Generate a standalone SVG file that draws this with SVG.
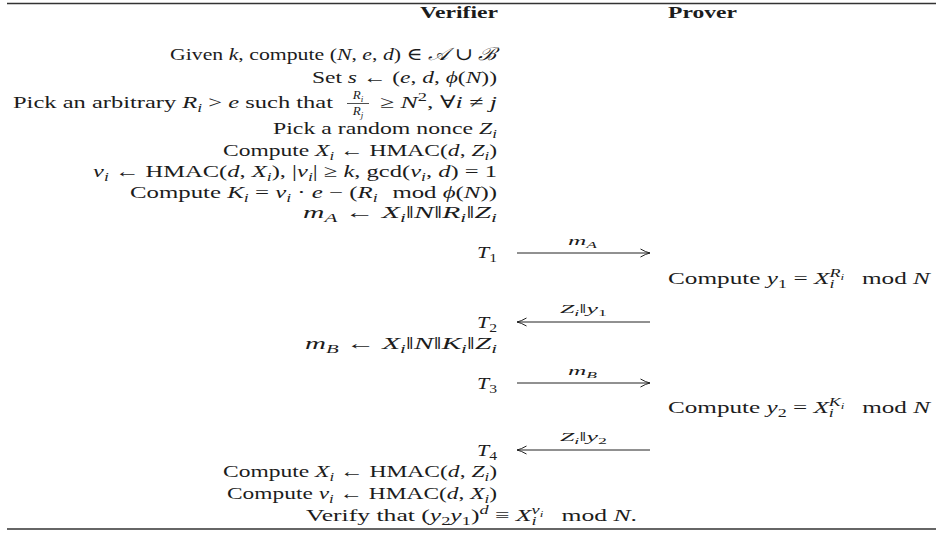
<svg xmlns="http://www.w3.org/2000/svg" width="937" height="534" viewBox="0 0 937 534">
<defs>
<style>
.t{font-family:"Liberation Serif","Times New Roman","DejaVu Serif",serif;font-size:17.5px;fill:#1c1c1c}
.b{font-weight:bold}
.i{font-style:italic}
.sb{font-size:12.5px;baseline-shift:-4px}
.sp{font-size:12.5px;baseline-shift:7px}
.ss{font-size:9px;baseline-shift:-2.5px}
.sm{font-size:13px}
.rule{stroke:#333;stroke-width:1.3}
.arr{stroke:#222;stroke-width:1;fill:none}
.fr{stroke:#222;stroke-width:0.8}
</style>
<marker id="head" markerUnits="userSpaceOnUse" markerWidth="12" markerHeight="10" refX="10" refY="5" orient="auto">
<path d="M0.5,1 Q6,4.2 10,5 M0.5,9 Q6,5.8 10,5" fill="none" stroke="#222" stroke-width="1"/>
</marker>
</defs>
<rect width="937" height="534" fill="#fff"/>
<g id="rules">
<line class="rule" x1="7" y1="3.5" x2="936" y2="3.5"/>
<line class="rule" x1="7" y1="529" x2="936" y2="529"/>
</g>
<g id="header">
<text class="t b" x="420" y="18" textLength="78" lengthAdjust="spacingAndGlyphs">Verifier</text>
<text class="t b" x="668" y="18" textLength="69" lengthAdjust="spacingAndGlyphs">Prover</text>
</g>
<g id="verifier-setup">
<text class="t" x="170" y="60" textLength="327" lengthAdjust="spacingAndGlyphs">Given <tspan class="i">k</tspan>, compute (<tspan class="i">N</tspan>, <tspan class="i">e</tspan>, <tspan class="i">d</tspan>) ∈ <tspan class="i">𝒜</tspan> ∪ <tspan class="i">ℬ</tspan></text>
<text class="t" x="312" y="83" textLength="185" lengthAdjust="spacingAndGlyphs">Set <tspan class="i">s</tspan> ← (<tspan class="i">e</tspan>, <tspan class="i">d</tspan>, <tspan class="i">ϕ</tspan>(<tspan class="i">N</tspan>))</text>
<text class="t" x="13" y="108" textLength="320" lengthAdjust="spacingAndGlyphs">Pick an arbitrary <tspan class="i">R</tspan><tspan class="sb i">i</tspan> &gt; <tspan class="i">e</tspan> such that</text>
<text class="t sm i" x="358" y="99" text-anchor="middle">R<tspan class="ss">i</tspan></text>
<line class="fr" x1="347" y1="103.5" x2="369" y2="103.5"/>
<text class="t sm i" x="358" y="114.5" text-anchor="middle">R<tspan class="ss">j</tspan></text>
<text class="t" x="380" y="108" textLength="117" lengthAdjust="spacingAndGlyphs">≥ <tspan class="i">N</tspan><tspan class="sp">2</tspan>, ∀<tspan class="i">i</tspan> ≠ <tspan class="i">j</tspan></text>
<text class="t" x="273" y="134" textLength="224" lengthAdjust="spacingAndGlyphs">Pick a random nonce <tspan class="i">Z</tspan><tspan class="sb i">i</tspan></text>
<text class="t" x="223" y="156" textLength="274" lengthAdjust="spacingAndGlyphs">Compute <tspan class="i">X</tspan><tspan class="sb i">i</tspan> ← HMAC(<tspan class="i">d</tspan>, <tspan class="i">Z</tspan><tspan class="sb i">i</tspan>)</text>
<text class="t" x="93" y="177" textLength="404" lengthAdjust="spacingAndGlyphs"><tspan class="i">v</tspan><tspan class="sb i">i</tspan> ← HMAC(<tspan class="i">d</tspan>, <tspan class="i">X</tspan><tspan class="sb i">i</tspan>), |<tspan class="i">v</tspan><tspan class="sb i">i</tspan>| ≥ <tspan class="i">k</tspan>, gcd(<tspan class="i">v</tspan><tspan class="sb i">i</tspan>, <tspan class="i">d</tspan>) = 1</text>
<text class="t" x="130" y="198" textLength="367" lengthAdjust="spacingAndGlyphs">Compute <tspan class="i">K</tspan><tspan class="sb i">i</tspan> = <tspan class="i">v</tspan><tspan class="sb i">i</tspan> · <tspan class="i">e</tspan> − (<tspan class="i">R</tspan><tspan class="sb i">i</tspan> <tspan dx="6">mod</tspan> <tspan class="i">ϕ</tspan>(<tspan class="i">N</tspan>))</text>
<text class="t" x="303" y="218" textLength="194" lengthAdjust="spacingAndGlyphs"><tspan class="i">m</tspan><tspan class="sb i">A</tspan> ← <tspan class="i">X</tspan><tspan class="sb i">i</tspan>‖<tspan class="i">N</tspan>‖<tspan class="i">R</tspan><tspan class="sb i">i</tspan>‖<tspan class="i">Z</tspan><tspan class="sb i">i</tspan></text>
</g>
<g id="t1">
<text class="t" x="477" y="258" textLength="20" lengthAdjust="spacingAndGlyphs"><tspan class="i">T</tspan><tspan class="sb">1</tspan></text>
</g>
<g id="prover-y1">
<text class="t" x="668" y="284" textLength="262" lengthAdjust="spacingAndGlyphs">Compute <tspan class="i">y</tspan><tspan class="sb">1</tspan> = <tspan class="i">X</tspan><tspan class="sb i">i</tspan><tspan class="sp i" dx="-3.5">R<tspan class="ss">i</tspan></tspan> <tspan dx="8">mod</tspan> <tspan class="i">N</tspan></text>
</g>
<g id="t2">
<text class="t" x="477" y="328" textLength="20" lengthAdjust="spacingAndGlyphs"><tspan class="i">T</tspan><tspan class="sb">2</tspan></text>
</g>
<g id="verifier-mb">
<text class="t" x="305" y="349" textLength="192" lengthAdjust="spacingAndGlyphs"><tspan class="i">m</tspan><tspan class="sb i">B</tspan> ← <tspan class="i">X</tspan><tspan class="sb i">i</tspan>‖<tspan class="i">N</tspan>‖<tspan class="i">K</tspan><tspan class="sb i">i</tspan>‖<tspan class="i">Z</tspan><tspan class="sb i">i</tspan></text>
</g>
<g id="t3">
<text class="t" x="477" y="389" textLength="20" lengthAdjust="spacingAndGlyphs"><tspan class="i">T</tspan><tspan class="sb">3</tspan></text>
</g>
<g id="prover-y2">
<text class="t" x="668" y="413" textLength="262" lengthAdjust="spacingAndGlyphs">Compute <tspan class="i">y</tspan><tspan class="sb">2</tspan> = <tspan class="i">X</tspan><tspan class="sb i">i</tspan><tspan class="sp i" dx="-3.5">K<tspan class="ss">i</tspan></tspan> <tspan dx="8">mod</tspan> <tspan class="i">N</tspan></text>
</g>
<g id="t4">
<text class="t" x="477" y="456" textLength="20" lengthAdjust="spacingAndGlyphs"><tspan class="i">T</tspan><tspan class="sb">4</tspan></text>
</g>
<g id="verifier-check">
<text class="t" x="223" y="477" textLength="274" lengthAdjust="spacingAndGlyphs">Compute <tspan class="i">X</tspan><tspan class="sb i">i</tspan> ← HMAC(<tspan class="i">d</tspan>, <tspan class="i">Z</tspan><tspan class="sb i">i</tspan>)</text>
<text class="t" x="227" y="499" textLength="270" lengthAdjust="spacingAndGlyphs">Compute <tspan class="i">v</tspan><tspan class="sb i">i</tspan> ← HMAC(<tspan class="i">d</tspan>, <tspan class="i">X</tspan><tspan class="sb i">i</tspan>)</text>
<text class="t" x="306" y="521" textLength="331" lengthAdjust="spacingAndGlyphs">Verify that (<tspan class="i">y</tspan><tspan class="sb">2</tspan><tspan class="i">y</tspan><tspan class="sb">1</tspan>)<tspan class="sp i">d</tspan> ≡ <tspan class="i">X</tspan><tspan class="sb i">i</tspan><tspan class="sp i" dx="-3.5">v<tspan class="ss">i</tspan></tspan> <tspan dx="8">mod</tspan> <tspan class="i">N</tspan>.</text>
</g>
<g id="connectors">
<line class="arr" x1="517" y1="253" x2="650" y2="253" marker-end="url(#head)"/>
<text class="t sm i" x="568" y="245" textLength="29" lengthAdjust="spacingAndGlyphs">m<tspan class="ss">A</tspan></text>
<line class="arr" x1="650" y1="322" x2="517" y2="322" marker-end="url(#head)"/>
<text class="t sm" x="560" y="313" textLength="47" lengthAdjust="spacingAndGlyphs"><tspan class="i">Z</tspan><tspan class="ss i">i</tspan>‖<tspan class="i">y</tspan><tspan class="ss">1</tspan></text>
<line class="arr" x1="517" y1="383" x2="650" y2="383" marker-end="url(#head)"/>
<text class="t sm i" x="568" y="375" textLength="29" lengthAdjust="spacingAndGlyphs">m<tspan class="ss">B</tspan></text>
<line class="arr" x1="650" y1="450" x2="517" y2="450" marker-end="url(#head)"/>
<text class="t sm" x="560" y="441" textLength="47" lengthAdjust="spacingAndGlyphs"><tspan class="i">Z</tspan><tspan class="ss i">i</tspan>‖<tspan class="i">y</tspan><tspan class="ss">2</tspan></text>
</g>
</svg>
